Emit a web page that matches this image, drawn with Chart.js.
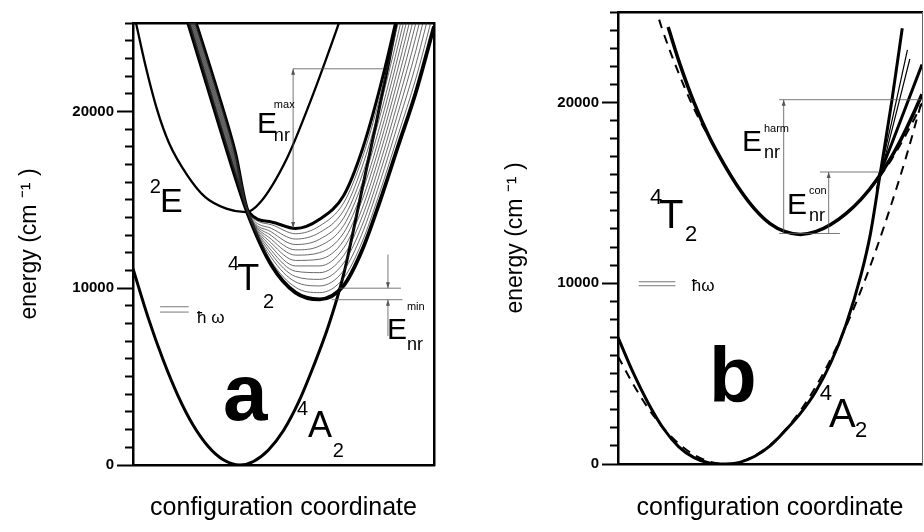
<!DOCTYPE html>
<html>
<head>
<meta charset="utf-8">
<script src="https://cdn.jsdelivr.net/npm/chart.js@4.4.0/dist/chart.umd.min.js"></script>
<style>
  body { margin: 0; background: #fff; }
  #wrap { position: relative; width: 924px; height: 532px; overflow: hidden; }
  canvas { position: absolute; top: 0; }
</style>
</head>
<body>
<div id="wrap">
  <canvas id="chartA" width="462" height="532" style="left:0"></canvas>
  <canvas id="chartB" width="462" height="532" style="left:462px"></canvas>
</div>
<script>
// ---- panel a : configuration coordinate (q) / energy (cm-1) ----
const a4A2Q = [0, 0.5, 1, 1.5, 2, 2.5, 3, 3.55, 4, 4.5, 5, 5.5, 6, 6.5, 7, 7.5, 8, 8.5, 8.75];
const a4A2E = [11100, 8350, 5950, 3900, 2250, 1050, 300, 0, 200, 850, 1950, 3550, 5600, 7900, 10800, 14700, 18700, 22800, 25000];

const a2EQ = [0.1, 0.4, 0.8, 1.2, 1.8, 2.4, 3.1, 3.75, 4.2, 5.1, 5.9, 6.8, 6.9];
const a2EE = [25000, 22700, 20100, 18200, 16400, 15150, 14500, 14300, 14800, 17300, 20600, 24800, 25300];

// 4T2 fan: lower and upper adiabatic curves with the thin levels between
const fanQ = [1.8, 2.8, 3.4, 3.85, 4.6, 5.4, 6.2, 7.0, 7.6, 8.2, 8.8, 9.4, 10.0];
const fanLower = [25200, 19600, 16300, 14050, 11300, 9750, 9370, 10150, 12100, 14900, 18000, 21100, 24800];
const fan01 = [25320, 19730, 16420, 14070, 11510, 10050, 9750, 10580, 12570, 15430, 18630, 21880, 25730];
const fan02 = [25430, 19870, 16530, 14090, 11720, 10360, 10130, 11000, 13040, 15970, 19270, 22670, 26670];
const fan03 = [25550, 20000, 16650, 14110, 11930, 10660, 10500, 11430, 13510, 16500, 19900, 23450, 27600];
const fan04 = [25670, 20130, 16770, 14130, 12130, 10960, 10880, 11850, 13980, 17030, 20530, 24230, 28530];
const fan05 = [25780, 20270, 16880, 14150, 12340, 11260, 11260, 12280, 14450, 17570, 21170, 25020, 29470];
const fan06 = [25900, 20400, 17000, 14180, 12550, 11570, 11640, 12700, 14930, 18100, 21800, 25800, 30400];
const fan07 = [26020, 20530, 17120, 14200, 12760, 11870, 12010, 13130, 15400, 18630, 22430, 26580, 31330];
const fan08 = [26130, 20670, 17230, 14220, 12970, 12170, 12390, 13550, 15870, 19170, 23070, 27370, 32270];
const fan09 = [26250, 20800, 17350, 14240, 13180, 12470, 12770, 13980, 16340, 19700, 23700, 28150, 33200];
const fan10 = [26370, 20930, 17470, 14260, 13380, 12780, 13150, 14400, 16810, 20230, 24330, 28930, 34130];
const fan11 = [26480, 21070, 17580, 14280, 13590, 13080, 13520, 14830, 17280, 20770, 24970, 29720, 35070];
const fanUpper = [26600, 21200, 17700, 14300, 13750, 13380, 13900, 15250, 17750, 21300, 25600, 30500, 36000];

// ---- panel b ----
const b4A2Q = [0, 0.5, 1, 1.5, 2, 2.5, 3, 3.52, 4, 4.5, 5, 5.5, 6, 6.5, 7, 7.5, 8, 8.3, 8.6, 9.0, 9.35];
const b4A2E = [7000, 5050, 3350, 1950, 950, 350, 60, 0, 90, 430, 1000, 1850, 2800, 4000, 5600, 7700, 10500, 12700, 15800, 20000, 24100];
const b4A2HarmQ = [0, 0.5, 1, 1.5, 2, 2.5, 3, 3.52, 4, 4.5, 5, 5.5, 6, 6.5, 7, 7.5, 8, 8.5, 9, 9.5, 10, 10.2];
const b4A2HarmE = [5950, 4410, 3070, 1980, 1120, 510, 135, 0, 110, 460, 1050, 1880, 2950, 4260, 5810, 7600, 9630, 11900, 14410, 17110, 20110, 21300];
const b4A2ThinQ1 = [8.5, 9.0, 9.52];
const b4A2ThinE1 = [15200, 18900, 22900];
const b4A2ThinQ2 = [8.5, 9.0, 9.6];
const b4A2ThinE2 = [15100, 18400, 22400];

const b4T2Q = [1.65, 2, 2.5, 3, 3.5, 4, 4.5, 5, 5.5, 6, 6.5, 7, 7.5, 8, 8.5, 9, 9.5, 10, 10.2];
const b4T2E = [24170, 22300, 20000, 18100, 16550, 15200, 14100, 13300, 12850, 12700, 12850, 13250, 13850, 14650, 15700, 17000, 18600, 20450, 21300];
const b4T2HarmQ = [1.2, 1.43, 2, 2.5, 3, 3.5, 4, 4.5, 5, 5.5, 6, 6.5, 7, 7.5, 8, 8.5, 9, 9.5, 10, 10.2];
const b4T2HarmE = [25430, 24170, 21600, 19650, 18050, 16550, 15200, 14100, 13300, 12850, 12700, 12850, 13250, 13850, 14650, 15650, 16850, 18300, 19950, 20700];
const b4T2SteepQ = [8.6, 9, 9.5, 10, 10.2];
const b4T2SteepE = [16000, 17700, 19900, 22100, 23000];

const yLabelTicks = [0, 10000, 20000];

const FONT = 'Arial, "Liberation Sans", Helvetica, sans-serif';

const pts = (qs, es) => qs.map((q, i) => ({ x: q, y: es[i] }));
const curve = (qs, es, width, extra) => Object.assign({
  data: pts(qs, es), xAxisID: 'x', yAxisID: 'y', showLine: true, pointRadius: 0,
  borderColor: '#000', borderWidth: width, cubicInterpolationMode: 'monotone', clip: 0
}, extra || {});

// lines, arrows and labels placed in data coordinates
const marks = {
  id: 'marks',
  afterDatasetsDraw(chart, args, opts) {
    const { ctx, chartArea, scales: { x, y } } = chart;
    const px = v => x.getPixelForValue(v), py = v => y.getPixelForValue(v);
    ctx.save();
    ctx.beginPath();
    ctx.rect(chartArea.left, chartArea.top, chartArea.right - chartArea.left, chartArea.bottom - chartArea.top);
    ctx.clip();
    (opts.lines || []).forEach(l => {
      const x1 = px(l.from[0]), y1 = py(l.from[1]), x2 = px(l.to[0]), y2 = py(l.to[1]);
      ctx.strokeStyle = l.color || '#555';
      ctx.lineWidth = l.width || 0.8;
      ctx.beginPath(); ctx.moveTo(x1, y1); ctx.lineTo(x2, y2); ctx.stroke();
      const head = (hx, hy, fx, fy) => {
        const a = Math.atan2(hy - fy, hx - fx);
        ctx.fillStyle = l.color || '#555';
        ctx.beginPath();
        ctx.moveTo(hx, hy);
        ctx.lineTo(hx - 6 * Math.cos(a) + 2 * Math.sin(a), hy - 6 * Math.sin(a) - 2 * Math.cos(a));
        ctx.lineTo(hx - 6 * Math.cos(a) - 2 * Math.sin(a), hy - 6 * Math.sin(a) + 2 * Math.cos(a));
        ctx.closePath(); ctx.fill();
      };
      if (l.arrow === 'end' || l.arrow === 'both') head(x2, y2, x1, y1);
      if (l.arrow === 'start' || l.arrow === 'both') head(x1, y1, x2, y2);
    });
    ctx.restore();
    ctx.save();
    ctx.fillStyle = '#000';
    ctx.textAlign = 'left';
    ctx.textBaseline = 'alphabetic';
    (opts.texts || []).forEach(t => {
      ctx.font = (t.bold ? 'bold ' : '') + t.size + 'px ' + FONT;
      ctx.fillText(t.t, px(t.q), py(t.e));
    });
    ctx.restore();
  }
};

function axes(p) {
  return {
    x: {
      type: 'linear', min: 0, max: 10,
      ticks: { display: false }, grid: { display: false, drawTicks: false },
      border: { color: '#000', width: 2.5 },
      title: { display: true, text: 'configuration coordinate', color: '#000',
        font: { family: FONT, size: 25 }, padding: { top: 0, bottom: 9 } },
      afterFit: s => { s.height = p.xH; }
    },
    xTop: {
      type: 'linear', position: 'top', min: 0, max: 10,
      ticks: { display: false }, grid: { display: false, drawTicks: false },
      border: { color: '#000', width: 2.5 },
      afterFit: s => { s.height = 0; }
    },
    yRight: {
      type: 'linear', position: 'right', min: 0, max: 25000,
      ticks: { display: false }, grid: { display: false, drawTicks: false },
      border: { color: p.rightColor, width: p.rightW },
      afterFit: s => { s.width = 0; }
    },
    yMajor: {
      type: 'linear', position: 'left', weight: 1, min: 0, max: 25000,
      ticks: { stepSize: 5000, color: '#000', padding: 3,
        font: { family: FONT, size: 15, weight: 'bold' },
        callback: v => yLabelTicks.includes(v) ? String(v) : '' },
      grid: { drawOnChartArea: false, tickLength: 8, tickWidth: 2,
        tickColor: c => yLabelTicks.includes(c.tick.value) ? '#000' : 'rgba(0,0,0,0)' },
      border: { display: false },
      title: { display: true, text: 'energy (cm \u207B\u00B9 )', color: '#000',
        font: { family: FONT, size: 23 }, padding: { top: p.yTitlePad, bottom: 0 } },
      afterFit: s => { s.width = p.yW - 8; }
    },
    y: {
      type: 'linear', position: 'left', weight: 0, min: 0, max: 25000,
      ticks: { stepSize: 1000, display: false },
      grid: { drawOnChartArea: false, tickLength: 8, tickWidth: 2, tickColor: '#000' },
      border: { color: '#000', width: 2.5 },
      afterFit: s => { s.width = 8; }
    }
  };
}

const baseOptions = {
  responsive: false, animation: false, events: [],
  plugins: { legend: { display: false }, tooltip: { enabled: false } }
};

// ---- panel a ----
const fanThin = [fan01, fan02, fan03, fan04, fan05, fan06, fan07, fan08, fan09, fan10, fan11]
  .map(e => curve(fanQ, e, 0.7, { borderColor: '#2a2a2a' }));

new Chart(document.getElementById('chartA'), {
  type: 'scatter',
  data: {
    datasets: [
      ...fanThin,
      curve(fanQ, fanUpper, 3),
      curve(fanQ, fanLower, 3.8),
      curve(a2EQ, a2EE, 2.3),
      curve(a4A2Q, a4A2E, 3)
    ]
  },
  options: Object.assign({}, baseOptions, {
    layout: { padding: { top: 23, right: 28, left: 0, bottom: 0 } },
    scales: axes({ xH: 67, yW: 133, yTitlePad: 16, rightW: 2.5, rightColor: '#000' }),
    plugins: Object.assign({}, baseOptions.plugins, {
      marks: {
        lines: [
          { from: [5.32, 13400], to: [5.32, 22410], arrow: 'both' },
          { from: [5.32, 22410], to: [8.3, 22410] },
          { from: [6.85, 10000], to: [8.9, 10000] },
          { from: [6.6, 9350], to: [8.95, 9350] },
          { from: [8.47, 11900], to: [8.47, 10000], arrow: 'end' },
          { from: [8.47, 7300], to: [8.47, 9350], arrow: 'end' },
          { from: [0.9, 8950], to: [1.85, 8950] },
          { from: [0.9, 8650], to: [1.85, 8650] }
        ],
        texts: [
          { q: 0.56, e: 15370, t: '2', size: 20 },
          { q: 0.9, e: 14290, t: 'E', size: 34 },
          { q: 3.16, e: 11020, t: '4', size: 20 },
          { q: 3.46, e: 9890, t: 'T', size: 36 },
          { q: 4.32, e: 8870, t: '2', size: 20 },
          { q: 2.99, e: 2540, t: 'a', size: 80, bold: true },
          { q: 5.45, e: 2830, t: '4', size: 20 },
          { q: 5.81, e: 1580, t: 'A', size: 36 },
          { q: 6.64, e: 450, t: '2', size: 20 },
          { q: 4.12, e: 18760, t: 'E', size: 30 },
          { q: 4.68, e: 20170, t: 'max', size: 11 },
          { q: 4.68, e: 18310, t: 'nr', size: 18 },
          { q: 8.44, e: 7120, t: 'E', size: 30 },
          { q: 9.1, e: 8760, t: 'min', size: 11 },
          { q: 9.1, e: 6500, t: 'nr', size: 18 },
          { q: 2.13, e: 8020, t: '\u0127 \u03C9', size: 17 }
        ]
      }
    })
  }),
  plugins: [marks]
});

// ---- panel b ----
new Chart(document.getElementById('chartB'), {
  type: 'scatter',
  data: {
    datasets: [
      curve(b4A2HarmQ, b4A2HarmE, 2, { borderDash: [9, 7] }),
      curve(b4T2HarmQ, b4T2HarmE, 2, { borderDash: [9, 7] }),
      curve(b4A2ThinQ1, b4A2ThinE1, 1.2),
      curve(b4A2ThinQ2, b4A2ThinE2, 1.2),
      curve(b4T2SteepQ, b4T2SteepE, 3),
      curve(b4T2Q, b4T2E, 3.5),
      curve(b4A2Q, b4A2E, 3)
    ]
  },
  options: Object.assign({}, baseOptions, {
    layout: { padding: { top: 10, right: 2, left: 0, bottom: 0 } },
    scales: axes({ xH: 68, yW: 156, yTitlePad: 40, rightW: 1, rightColor: '#666' }),
    plugins: Object.assign({}, baseOptions.plugins, {
      marks: {
        lines: [
          { from: [5.45, 12800], to: [5.45, 20150], arrow: 'end' },
          { from: [5.3, 20150], to: [10.3, 20150] },
          { from: [5.3, 12750], to: [7.3, 12750] },
          { from: [6.93, 12750], to: [6.93, 16150], arrow: 'end' },
          { from: [6.64, 16150], to: [8.6, 16150] },
          { from: [0.68, 10080], to: [1.89, 10080] },
          { from: [0.68, 9860], to: [1.89, 9860] }
        ],
        texts: [
          { q: 1.05, e: 14370, t: '4', size: 22 },
          { q: 1.35, e: 13050, t: 'T', size: 40 },
          { q: 2.2, e: 12340, t: '2', size: 22 },
          { q: 2.99, e: 3410, t: 'b', size: 78, bold: true },
          { q: 6.64, e: 3520, t: '4', size: 22 },
          { q: 6.94, e: 2040, t: 'A', size: 40 },
          { q: 7.8, e: 1490, t: '2', size: 22 },
          { q: 4.08, e: 17290, t: 'E', size: 30 },
          { q: 4.8, e: 18390, t: 'harm', size: 11 },
          { q: 4.8, e: 16910, t: 'nr', size: 18 },
          { q: 5.56, e: 13820, t: 'E', size: 30 },
          { q: 6.28, e: 14920, t: 'con', size: 11 },
          { q: 6.28, e: 13440, t: 'nr', size: 18 },
          { q: 2.43, e: 9580, t: '\u0127\u03C9', size: 17 }
        ]
      }
    })
  }),
  plugins: [marks]
});
</script>
</body>
</html>
